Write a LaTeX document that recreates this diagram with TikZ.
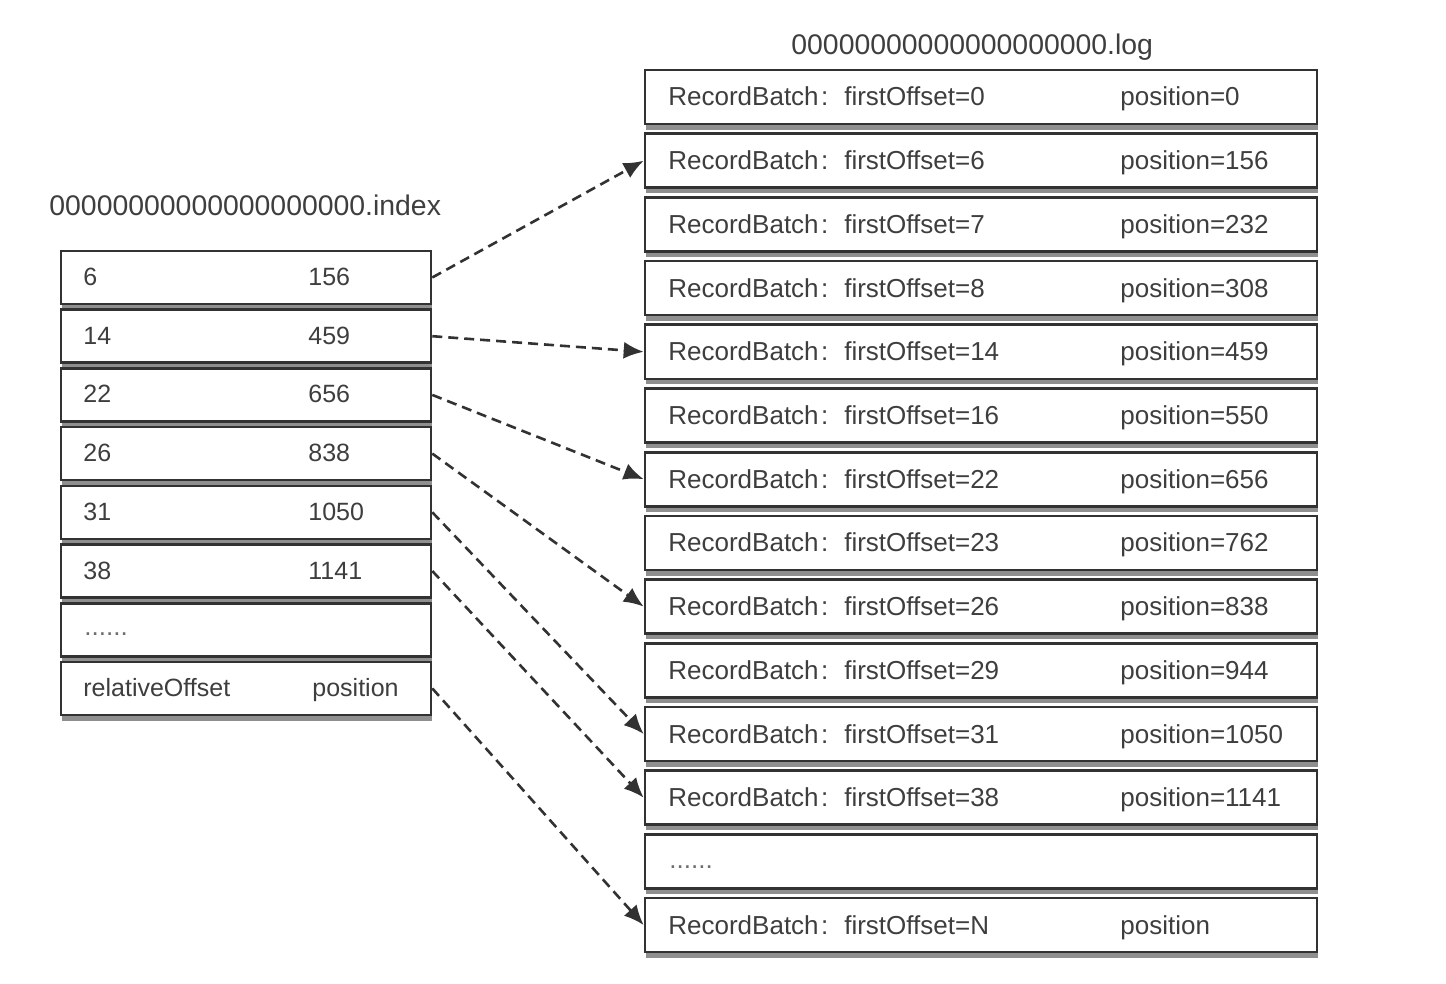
\documentclass[tikz,border=0pt]{standalone}
\usepackage{fontspec}
\setmainfont{Liberation Sans}
\usetikzlibrary{shadows,calc,arrows.meta}
\definecolor{ink}{RGB}{50,50,50}
\definecolor{txtc}{RGB}{62,62,62}
\definecolor{dotc}{RGB}{110,110,110}
\begin{document}
\begin{tikzpicture}[x=0.5pt,y=-0.5pt,
  box/.style={draw=ink, line width=1.3pt, fill=white, inner sep=0pt,
    drop shadow={shadow xshift=0.6pt, shadow yshift=-2.8pt, fill=black!55, opacity=0.8}},
  lbox/.style={box, minimum width=185pt, minimum height=26.5pt},
  rbox/.style={box, minimum width=336pt, minimum height=27pt},
  ltxt/.style={text=txtc, font=\fontsize{12.5}{14}\selectfont, inner sep=0pt, anchor=base west},
  rtxt/.style={text=txtc, font=\fontsize{13}{15}\selectfont, inner sep=0pt, anchor=base west},
  ttl/.style={text=txtc, font=\fontsize{14.2}{16}\selectfont, inner sep=0pt, anchor=base west},
  dots/.style={text=dotc, font=\fontsize{13}{15}\selectfont, inner sep=0pt, anchor=base west},
  link/.style={draw=ink, line width=1.3pt, dash pattern=on 5pt off 3pt,
    -{Latex[length=10pt,width=8.5pt]}}
]
\useasboundingbox (0,0) rectangle (1446,984);

% titles
\node[ttl] (ltitle) at (49,216) {00000000000000000000.index};
\node[ttl] (rtitle) at (791,55) {00000000000000000000.log};

% index table
\foreach \a/\b [count=\i] in {6/156,14/459,22/656,26/838,31/1050,38/1141}{
  \node[lbox] (L\i) at (246,{277.5+58.7*(\i-1)}) {};
  \node[ltxt] (La\i) at ($(L\i.center)+(-163,8)$) {\a};
  \node[ltxt] (Lb\i) at ($(L\i.center)+(62,8)$) {\b};
}
\node[lbox] (L7) at (246,{277.5+58.7*6}) {};
\node[dots] (La7) at ($(L7.center)+(-162,6)$) {......};
\node[lbox] (L8) at (246,{277.5+58.7*7}) {};
\node[ltxt] (La8) at ($(L8.center)+(-163,8)$) {relativeOffset};
\node[ltxt] (Lb8) at ($(L8.center)+(66,8)$) {position};

% log table
\foreach \a/\b [count=\i] in {0/0,6/156,7/232,8/308,14/459,16/550,22/656,23/762,26/838,29/944,31/1050,38/1141}{
  \node[rbox] (R\i) at (981,{97+63.7*(\i-1)}) {};
  \node[rtxt] (Ra\i) at ($(R\i.center)+(-313,9)$) {RecordBatch\hspace{1.2pt}:\hspace{8pt}firstOffset=\a};
  \node[rtxt] (Rb\i) at ($(R\i.center)+(139,9)$) {position=\b};
}
\node[rbox] (R13) at (981,{97+63.7*12}) {};
\node[dots] (Ra13) at ($(R13.center)+(-312,7)$) {......};
\node[rbox] (R14) at (981,{97+63.7*13}) {};
\node[rtxt] (Ra14) at ($(R14.center)+(-313,9)$) {RecordBatch\hspace{1.2pt}:\hspace{8pt}firstOffset=N};
\node[rtxt] (Rb14) at ($(R14.center)+(139,9)$) {position};

% links
\draw[link] (L1.east) -- (R2.west);
\draw[link] (L2.east) -- (R5.west);
\draw[link] (L3.east) -- (R7.west);
\draw[link] (L4.east) -- (R9.west);
\draw[link] (L5.east) -- (R11.west);
\draw[link] (L6.east) -- (R12.west);
\draw[link] (L8.east) -- (R14.west);
\end{tikzpicture}
\end{document}
